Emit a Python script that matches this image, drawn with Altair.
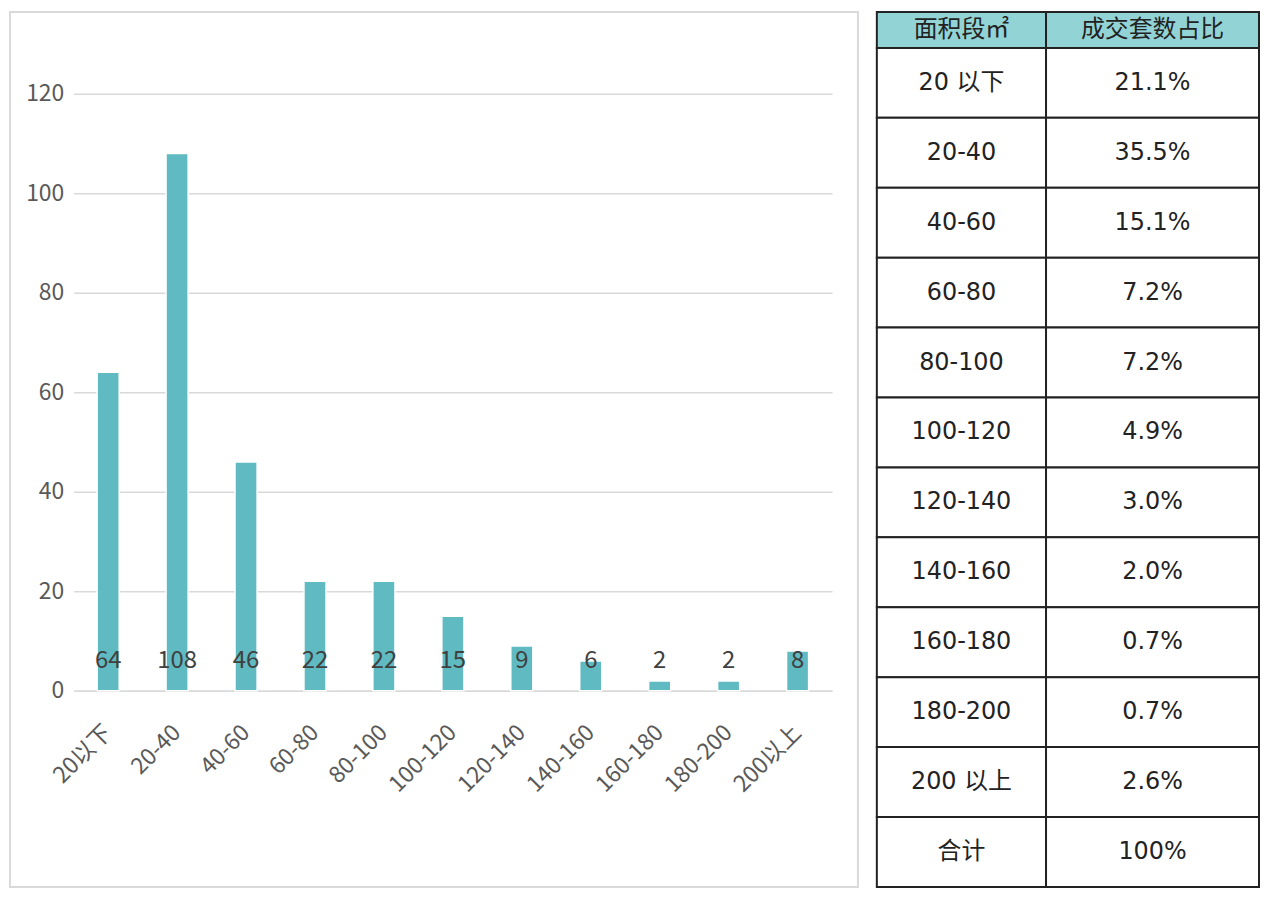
import altair as alt
import pandas as pd

# ---- data ----
categories = ["20以下", "20-40", "40-60", "60-80", "80-100", "100-120",
              "120-140", "140-160", "160-180", "180-200", "200以上"]
counts = [64, 108, 46, 22, 22, 15, 9, 6, 2, 2, 8]
y_ticks = [0, 20, 40, 60, 80, 100, 120]

table_header = ["面积段㎡", "成交套数占比"]
table_ranges = ["20 以下", "20-40", "40-60", "60-80", "80-100", "100-120",
                "120-140", "140-160", "160-180", "180-200", "200 以上", "合计"]
table_shares = ["21.1%", "35.5%", "15.1%", "7.2%", "7.2%", "4.9%",
                "3.0%", "2.0%", "0.7%", "0.7%", "2.6%", "100%"]

AXIS_FONT = "Noto Sans CJK SC, sans-serif"
TABLE_FONT = "DejaVu Sans, Noto Sans CJK SC, sans-serif"
HEAD_FONT = "Noto Sans CJK SC, sans-serif"

# ---- bar chart ----
bars_df = pd.DataFrame({"cat": categories, "n": counts})
base = alt.Chart(bars_df)

xenc = alt.X(
    "cat:N", sort=categories,
    scale=alt.Scale(paddingInner=0.68, paddingOuter=0.34),
    axis=alt.Axis(title=None, labelAngle=-45, labelAlign="right",
                  labelBaseline="middle", labelFont=AXIS_FONT, labelFontSize=23,
                  labelColor="#595959", labelPadding=38, ticks=False,
                  domainColor="#d9d9d9", domainWidth=1.5, labelLimit=0),
)
yenc = alt.Y(
    "n:Q", scale=alt.Scale(domain=[0, 136.4], nice=False),
    axis=alt.Axis(title=None, values=y_ticks, grid=True, gridColor="#d9d9d9",
                  gridWidth=1.5, domain=False, ticks=False, labelFont=AXIS_FONT,
                  labelFontSize=23, labelColor="#595959", labelPadding=10),
)

bars = base.mark_bar(color="#5fbac2", stroke="white", strokeWidth=1.5).encode(x=xenc, y=yenc)
labels = base.mark_text(font=AXIS_FONT, fontSize=24, color="#404040",
                        baseline="middle", dy=-30).encode(
    x=alt.X("cat:N", sort=categories), y=alt.datum(0), text="n:Q")

frame = alt.Chart(pd.DataFrame({"f": [0]})).mark_rect(
    fillOpacity=0, stroke="#d9d9d9", strokeWidth=2).encode(
    x=alt.value(-64), x2=alt.value(788), y=alt.value(0), y2=alt.value(879))

left = alt.layer(frame, bars, labels).properties(width=762, height=682)


# ---- table ----
def header_cell(header, w):
    hdf = pd.DataFrame({"t": [header]})
    return alt.layer(
        alt.Chart(hdf).mark_rect(fill="#92d4d6", stroke="#222222", strokeWidth=2).encode(
            y=alt.Y("t:N", axis=None)),
        alt.Chart(hdf).mark_text(font=HEAD_FONT, fontSize=24, color="#222222",
                                 baseline="middle").encode(
            y=alt.Y("t:N", axis=None), text="t:N"),
    ).properties(width=w, height=36)


def body_column(values, w):
    bdf = pd.DataFrame({"i": list(range(len(values))), "t": values})
    yb = alt.Y("i:O", axis=None, scale=alt.Scale(paddingInner=0, paddingOuter=0))
    return alt.layer(
        alt.Chart(bdf).mark_rect(fill="white", stroke="#222222", strokeWidth=2).encode(y=yb),
        alt.Chart(bdf).mark_text(font=TABLE_FONT, fontSize=24, color="#222222").encode(
            y=yb, text="t:N"),
    ).properties(width=w, height=843)


table = alt.concat(
    header_cell(table_header[0], 170),
    header_cell(table_header[1], 214),
    body_column(table_ranges, 170),
    body_column(table_shares, 214),
    columns=2, spacing=0, bounds="flush", align="each",
)

chart = alt.hconcat(left, table, spacing=15).properties(padding=0).configure_view(
    stroke="transparent")

chart.save("out.html", embed_options={"renderer": "svg", "actions": False})
